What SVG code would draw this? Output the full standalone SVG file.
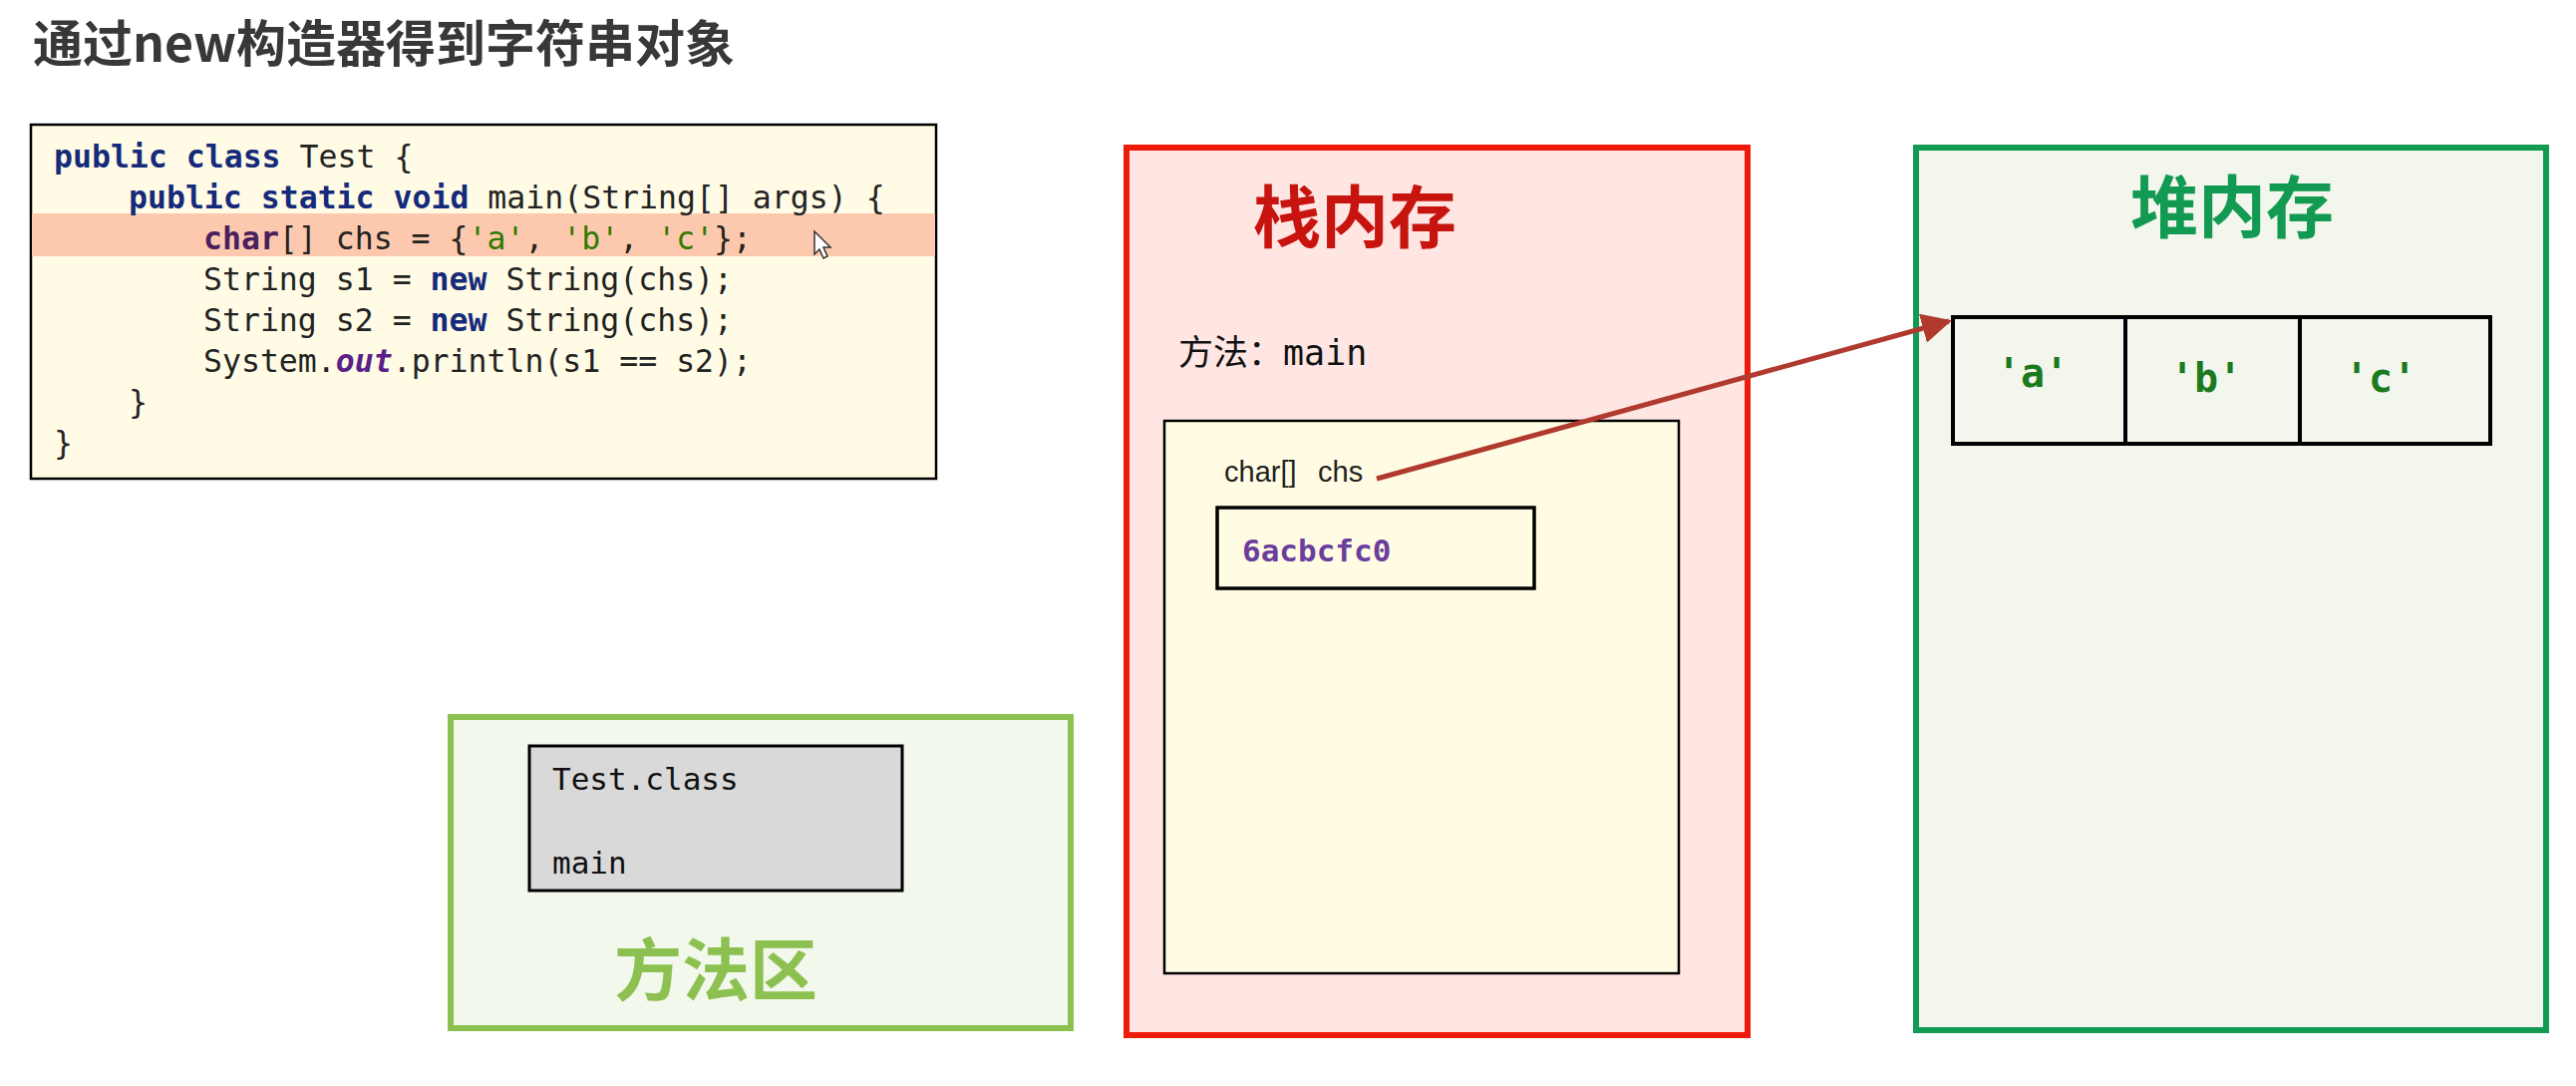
<svg xmlns="http://www.w3.org/2000/svg" width="2584" height="1089" viewBox="0 0 2584 1089">
<defs>
<style>
.title{font-family:"Noto Sans CJK SC","Noto Sans",sans-serif;font-weight:bold;font-size:50px;fill:#383838}
.code{font-family:"DejaVu Sans Mono","Liberation Mono",monospace;font-size:31.5px;fill:#222}
.kw{fill:#152a7a;font-weight:bold}
.ch{fill:#4a1f5e;font-weight:bold}
.str{fill:#2f7a00}
.out{fill:#5b1f8a;font-style:italic;font-weight:bold}
.big{font-family:"Noto Sans CJK SC",sans-serif;font-weight:bold;font-size:68px}
.mono{font-family:"DejaVu Sans Mono","Liberation Mono","Noto Sans CJK SC",monospace}
.box{stroke:#000;stroke-width:2.5}
</style>
<marker id="ah" viewBox="0 0 10 10" refX="9" refY="5" markerWidth="6" markerHeight="6" orient="auto" markerUnits="strokeWidth">
<path d="M0,0 L10,5 L0,10 Z" fill="#b03a2e"/>
</marker>
</defs>
<rect width="2584" height="1089" fill="#ffffff"/>
<text class="title" x="33" y="62">通过new构造器得到字符串对象</text>

<g id="code">
<rect x="31" y="125" width="908" height="355" fill="#fffbe5" class="box"/>
<rect x="32" y="214" width="906" height="43" fill="#fdc9ae"/>
<text class="code" x="54" y="168"><tspan class="kw">public</tspan> <tspan class="kw">class</tspan> Test {</text>
<text class="code" x="129" y="209"><tspan class="kw">public</tspan> <tspan class="kw">static</tspan> <tspan class="kw">void</tspan> main(String[] args) {</text>
<text class="code" x="204" y="250"><tspan class="ch">char</tspan>[] chs = {<tspan class="str">'a'</tspan>, <tspan class="str">'b'</tspan>, <tspan class="str">'c'</tspan>};</text>
<text class="code" x="204" y="291">String s1 = <tspan class="kw">new</tspan> String(chs);</text>
<text class="code" x="204" y="332">String s2 = <tspan class="kw">new</tspan> String(chs);</text>
<text class="code" x="204" y="373">System.<tspan class="out">out</tspan>.println(s1 == s2);</text>
<text class="code" x="129" y="414">}</text>
<text class="code" x="54" y="455">}</text>
<path d="M817,232 L817,255 L822,250 L826,259 L830,257 L826,248 L833,248 Z" fill="#ffffff" stroke="#333" stroke-width="1.5"/>
</g>

<g id="stack">
<rect x="1130" y="148" width="623" height="890" fill="#ffe6e3" stroke="#ee1a0a" stroke-width="6"/>
<text class="big" x="1257" y="243" fill="#c8140e">栈内存</text>
<text class="mono" x="1182" y="366" font-size="35" fill="#111">方法：main</text>
<rect x="1168" y="422" width="516" height="554" fill="#fffce3" class="box"/>
<text x="1228" y="483" font-family="Liberation Sans, Arial, sans-serif" font-size="29" fill="#222">char[]</text>
<text x="1322" y="483" font-family="Liberation Sans, Arial, sans-serif" font-size="29" fill="#222">chs</text>
<rect x="1221" y="509" width="318" height="81" fill="#fffce3" stroke="#000" stroke-width="3.5"/>
<text class="mono" x="1246" y="563" font-size="31" font-weight="bold" fill="#6b3d9c">6acbcfc0</text>
</g>

<g id="heap">
<rect x="1922" y="148" width="632" height="885" fill="#f3f6ec" stroke="#129a52" stroke-width="6"/>
<text class="big" x="2137" y="233" fill="#129a52">堆内存</text>
<rect x="1959" y="318" width="539" height="127" fill="none" stroke="#000" stroke-width="4"/>
<line x1="2132" y1="318" x2="2132" y2="447" stroke="#000" stroke-width="4"/>
<line x1="2307" y1="318" x2="2307" y2="445" stroke="#000" stroke-width="4"/>
<text class="mono" x="2039" y="388" font-size="40" font-weight="bold" fill="#1b7a1b" text-anchor="middle">'a'</text>
<text class="mono" x="2213" y="393" font-size="40" font-weight="bold" fill="#1b7a1b" text-anchor="middle">'b'</text>
<text class="mono" x="2388" y="393" font-size="40" font-weight="bold" fill="#1b7a1b" text-anchor="middle">'c'</text>
</g>

<g id="method-area">
<rect x="452" y="719" width="622" height="312" fill="#f3f8ec" stroke="#8cc152" stroke-width="6"/>
<rect x="531" y="748" width="374" height="145" fill="#d9d9d9" stroke="#000" stroke-width="3"/>
<text class="mono" x="554" y="792" font-size="31" fill="#111">Test.class</text>
<text class="mono" x="554" y="876" font-size="31" fill="#111">main</text>
<text class="big" x="616" y="998" fill="#8cc152">方法区</text>
</g>

<g id="connectors">
<line x1="1381" y1="480" x2="1955" y2="322" stroke="#b03a2e" stroke-width="5" marker-end="url(#ah)"/>
</g>
</svg>
